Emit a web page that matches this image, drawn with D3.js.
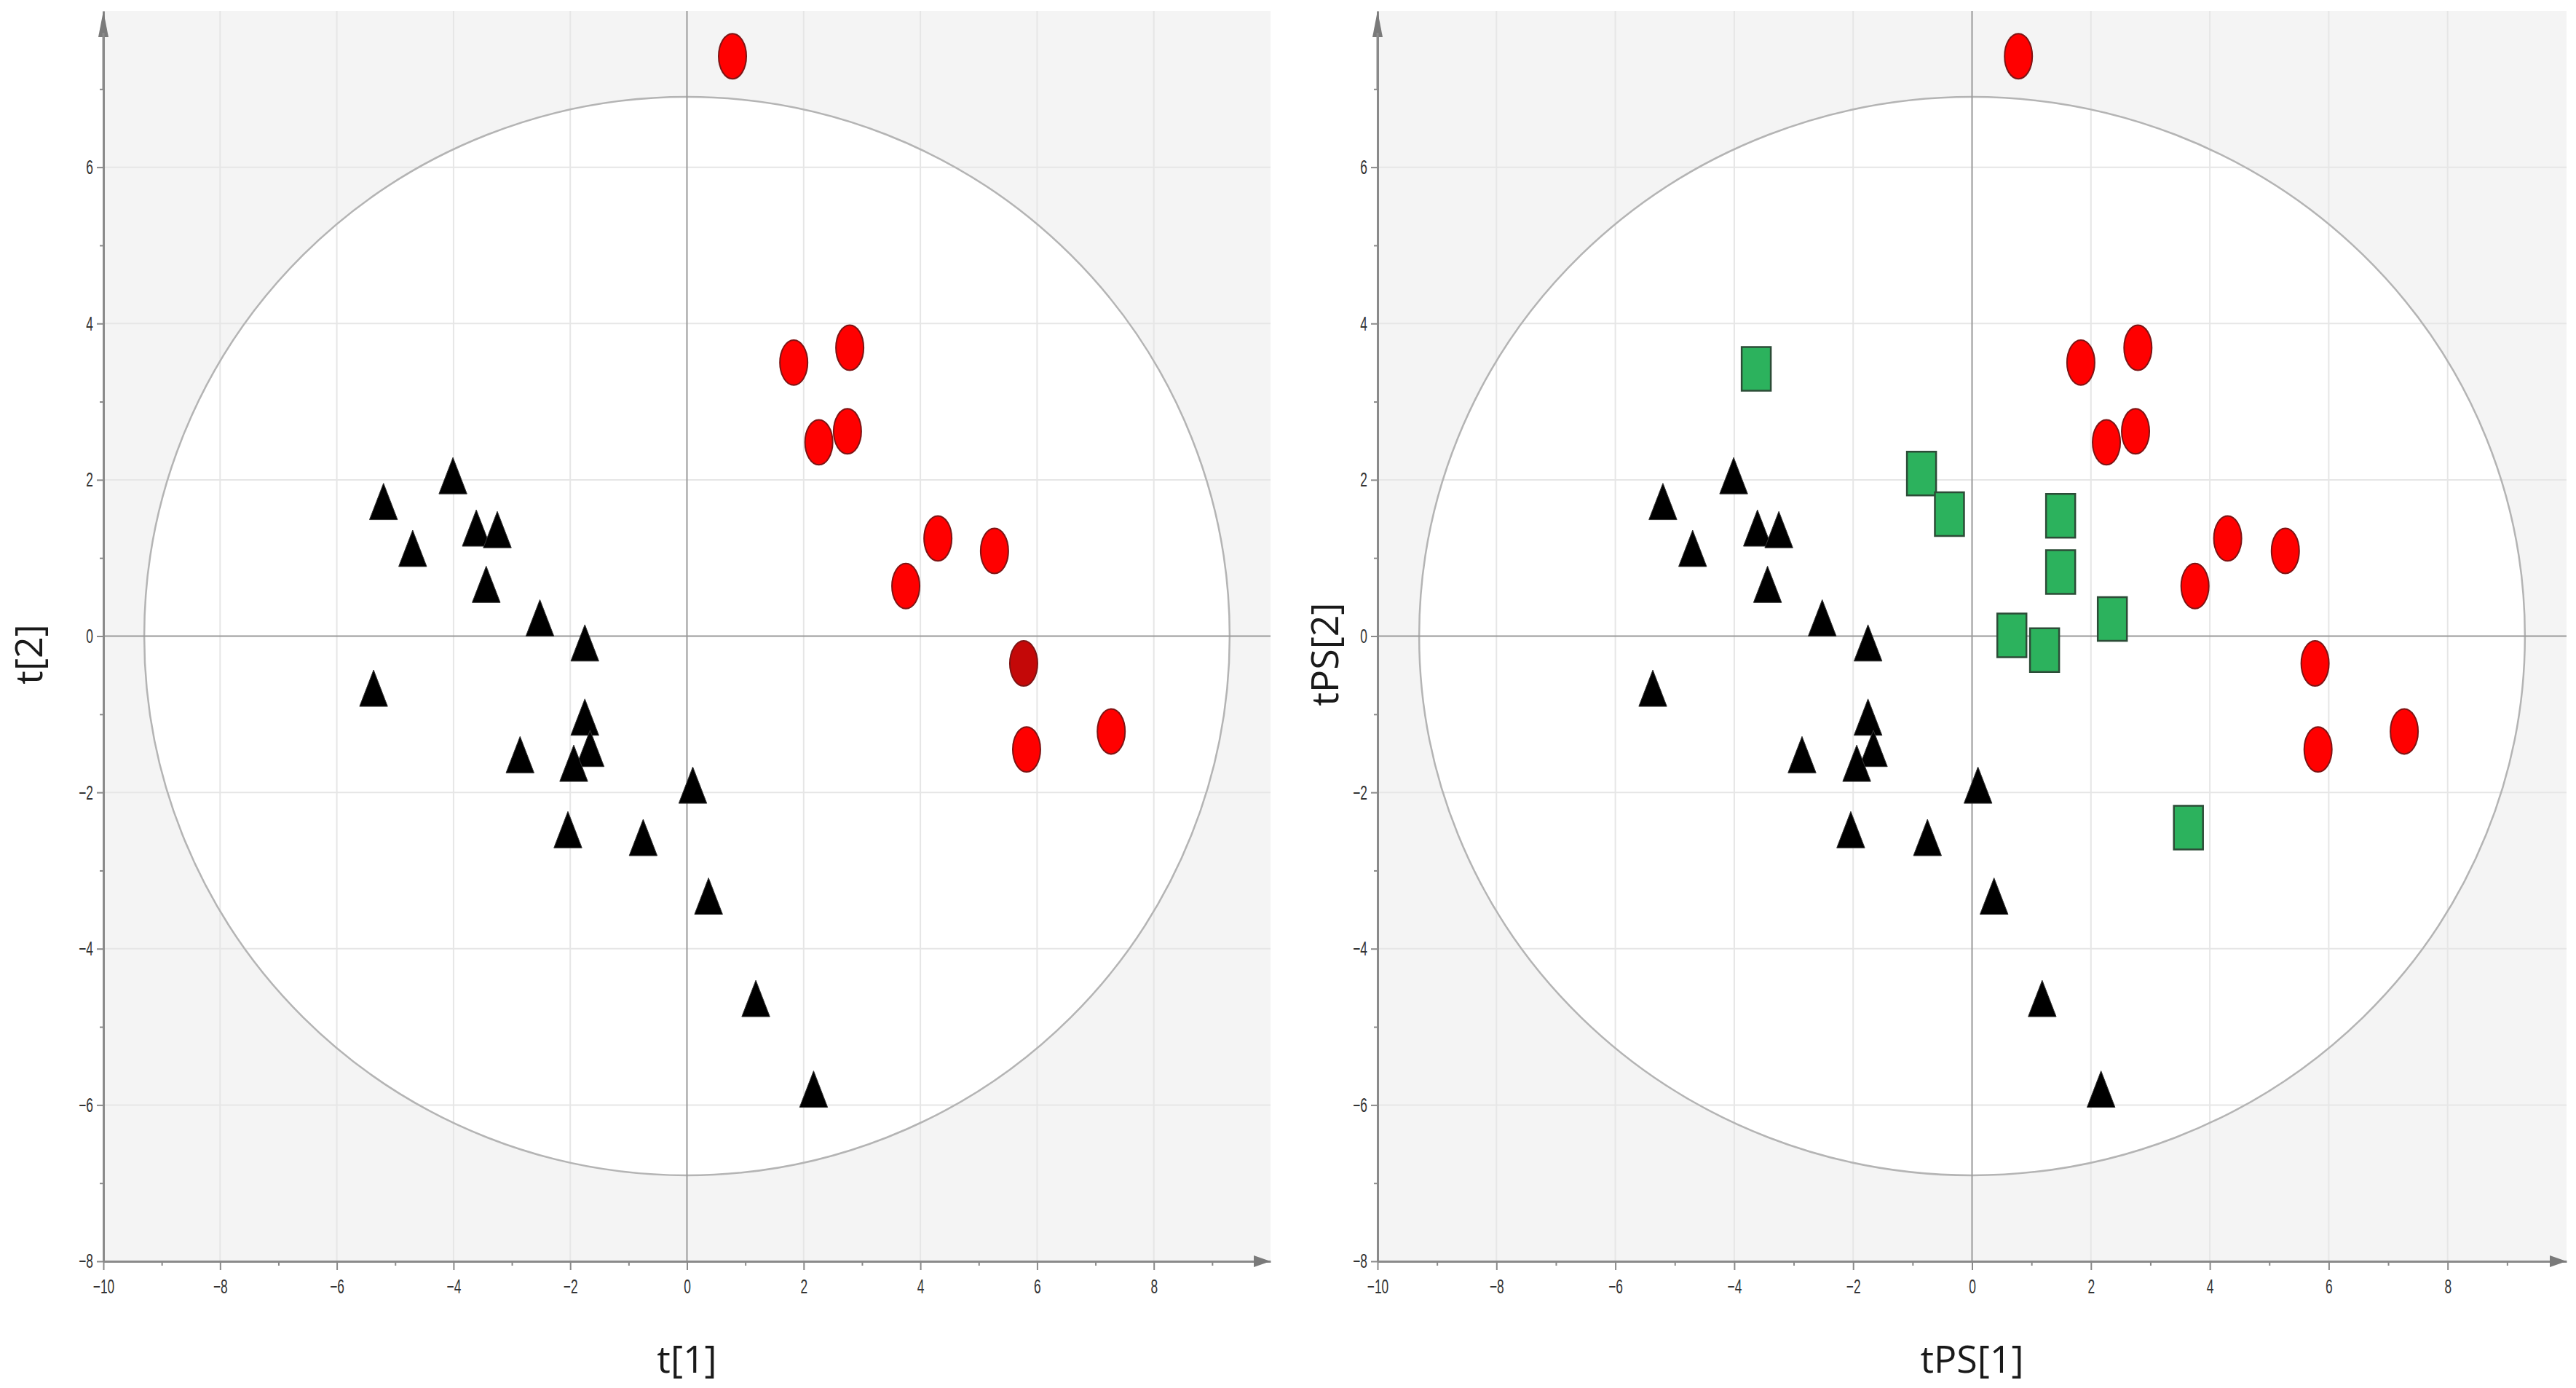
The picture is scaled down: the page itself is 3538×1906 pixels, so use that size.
<!DOCTYPE html>
<html>
<head>
<meta charset="utf-8">
<script src="https://cdn.jsdelivr.net/npm/d3@7.9.0/dist/d3.min.js"></script>
<style>
  body { margin: 0; background: #fff; }
  svg { display: block; }
</style>
</head>
<body>
<svg id="chart" width="3538" height="1906"></svg>
<script>
// tick values for both score plots
const xTicks = [-10, -8, -6, -4, -2, 0, 2, 4, 6, 8];
const yTicks = [-8, -6, -4, -2, 0, 2, 4, 6];
const xMinor = [-9, -7, -5, -3, -1, 1, 3, 5, 7, 9];
const yMinor = [-7, -5, -3, -1, 1, 3, 5, 7];

// Hotelling T2 ellipse half-axes
const ellipseAxes = [9.3, 6.9];

// red circles (t[1], t[2])
const circles = [
  [0.78, 7.42], [1.83, 3.50], [2.79, 3.69], [2.26, 2.48], [2.75, 2.62],
  [4.30, 1.25], [5.27, 1.09], [3.75, 0.64], [5.77, -0.35], [5.82, -1.45],
  [7.27, -1.22]
];
// black triangles
const triangles = [
  [-4.01, 2.05], [-5.20, 1.72], [-4.70, 1.12], [-3.61, 1.38], [-3.25, 1.36],
  [-3.44, 0.66], [-2.52, 0.23], [-1.75, -0.09], [-5.37, -0.67], [-1.75, -1.04],
  [-1.66, -1.44], [-2.86, -1.52], [-1.94, -1.63], [0.10, -1.91], [-2.04, -2.48],
  [-0.75, -2.58], [0.37, -3.33], [1.18, -4.64], [2.17, -5.80]
];
// green squares (predicted, right plot only)
const squares = [
  [-3.63, 3.42], [-0.85, 2.08], [-0.38, 1.56], [1.49, 1.54], [1.49, 0.82],
  [0.67, 0.01], [1.22, -0.18], [2.36, 0.22], [3.64, -2.45]
];

const svg = d3.select('#chart');

function drawPanel(opts) {
  const x = d3.scaleLinear().domain([-10, 10]).range([opts.left, opts.right]);
  const y = d3.scaleLinear().domain([-8, 8]).range([1732, 15]);
  const g = svg.append('g');

  g.append('rect')
    .attr('x', x(-10)).attr('y', y(8))
    .attr('width', x(10) - x(-10)).attr('height', y(-8) - y(8))
    .attr('fill', '#f4f4f4');

  g.append('ellipse')
    .attr('cx', x(0)).attr('cy', y(0))
    .attr('rx', x(ellipseAxes[0]) - x(0))
    .attr('ry', y(0) - y(ellipseAxes[1]))
    .attr('fill', '#fff');

  // grid
  g.selectAll('.gx').data(xTicks.filter(d => d !== 0 && d !== -10)).join('line')
    .attr('x1', d => x(d)).attr('x2', d => x(d))
    .attr('y1', y(8)).attr('y2', y(-8))
    .attr('stroke', '#e6e6e6').attr('stroke-width', 2);
  g.selectAll('.gy').data(yTicks.filter(d => d !== 0 && d !== -8)).join('line')
    .attr('x1', x(-10)).attr('x2', x(10))
    .attr('y1', d => y(d)).attr('y2', d => y(d))
    .attr('stroke', '#e6e6e6').attr('stroke-width', 2);

  g.append('ellipse')
    .attr('cx', x(0)).attr('cy', y(0))
    .attr('rx', x(ellipseAxes[0]) - x(0))
    .attr('ry', y(0) - y(ellipseAxes[1]))
    .attr('fill', 'none')
    .attr('stroke', '#b4b4b4').attr('stroke-width', 2.5);

  // zero lines
  g.append('line')
    .attr('x1', x(0)).attr('x2', x(0)).attr('y1', y(8)).attr('y2', y(-8))
    .attr('stroke', '#999').attr('stroke-width', 2);
  g.append('line')
    .attr('x1', x(-10)).attr('x2', x(10)).attr('y1', y(0)).attr('y2', y(0))
    .attr('stroke', '#999').attr('stroke-width', 2);

  // axes
  const xAxis = g.append('g').attr('transform', `translate(0,${y(-8)})`)
    .call(d3.axisBottom(x).tickValues(xTicks).tickSize(12).tickSizeOuter(0).tickPadding(12));
  g.append('g').attr('transform', `translate(0,${y(-8)})`)
    .call(d3.axisBottom(x).tickValues(xMinor).tickSize(6).tickSizeOuter(0).tickFormat(''))
    .select('.domain').remove();
  const yAxis = g.append('g').attr('transform', `translate(${x(-10)},0)`)
    .call(d3.axisLeft(y).tickValues(yTicks).tickSize(9).tickSizeOuter(0));
  g.append('g').attr('transform', `translate(${x(-10)},0)`)
    .call(d3.axisLeft(y).tickValues(yMinor).tickSize(5).tickSizeOuter(0).tickFormat(''))
    .select('.domain').remove();

  g.selectAll('.domain').attr('stroke', '#8a8a8a').attr('stroke-width', 3);
  g.selectAll('.tick line').attr('stroke', '#8a8a8a').attr('stroke-width', 2);
  xAxis.selectAll('text')
    .attr('font-family', 'Liberation Sans, Arial, sans-serif')
    .attr('font-size', 28).attr('fill', '#333')
    .attr('transform', 'scale(0.62,1)');
  yAxis.selectAll('text')
    .attr('font-family', 'Liberation Sans, Arial, sans-serif')
    .attr('font-size', 28).attr('fill', '#333')
    .attr('x', -14 / 0.62)
    .attr('transform', 'scale(0.62,1)');

  // arrow heads
  g.append('path')
    .attr('d', `M${x(10)},${y(-8)} L${x(10) - 23},${y(-8) - 8} L${x(10) - 23},${y(-8) + 8} Z`)
    .attr('fill', '#7a7a7a');
  g.append('path')
    .attr('d', `M${x(-10)},${y(8)} L${x(-10) - 7},${y(8) + 36} L${x(-10) + 7},${y(8) + 36} Z`)
    .attr('fill', '#7a7a7a');
  g.append('line')
    .attr('x1', x(-10)).attr('x2', x(-10)).attr('y1', y(8) + 30).attr('y2', y(7))
    .attr('stroke', '#8a8a8a').attr('stroke-width', 3);

  // axis titles
  g.append('text')
    .attr('x', x(0)).attr('y', 1885)
    .attr('text-anchor', 'middle')
    .attr('font-family', 'Open Sans, Noto Sans, sans-serif')
    .attr('font-size', 52).attr('fill', '#1a1a1a')
    .text(opts.xLabel);
  g.append('text')
    .attr('transform', `translate(${opts.yLabelX},${y(0) + 25}) rotate(-90)`)
    .attr('text-anchor', 'middle')
    .attr('font-family', 'Open Sans, Noto Sans, sans-serif')
    .attr('font-size', 52).attr('fill', '#1a1a1a')
    .text(opts.yLabel);

  // markers (triangle anchored on its box centre)
  const tri = d3.symbol().type(d3.symbolTriangle).size(640);
  g.selectAll('.tri').data(triangles).join('path')
    .attr('d', tri)
    .attr('transform', d => `translate(${x(d[0])},${y(d[1]) + 8}) scale(1,1.5)`)
    .attr('fill', '#000')
    .attr('stroke', '#333').attr('stroke-width', 1)
    .attr('vector-effect', 'non-scaling-stroke');

  if (opts.showSquares) {
    const sq = d3.symbol().type(d3.symbolSquare).size(1600);
    g.selectAll('.sq').data(squares).join('path')
      .attr('d', sq)
      .attr('transform', d => `translate(${x(d[0])},${y(d[1])}) scale(1,1.5)`)
      .attr('fill', '#2cb25d')
      .attr('stroke', '#2c4c37').attr('stroke-width', 2.5)
      .attr('vector-effect', 'non-scaling-stroke');
  }

  const circ = d3.symbol().type(d3.symbolCircle).size(1134);
  g.selectAll('.circ').data(circles).join('path')
    .attr('d', circ)
    .attr('transform', d => `translate(${x(d[0])},${y(d[1])}) scale(1,1.63)`)
    .attr('fill', (d, i) => i === opts.darkIndex ? '#c40808' : '#ff0000')
    .attr('stroke', '#7e1414').attr('stroke-width', 2)
    .attr('vector-effect', 'non-scaling-stroke');
}

drawPanel({ left: 142, right: 1745, yLabelX: 58, xLabel: 't[1]', yLabel: 't[2]', showSquares: false, darkIndex: 8 });
drawPanel({ left: 1892, right: 3525, yLabelX: 1838, xLabel: 'tPS[1]', yLabel: 'tPS[2]', showSquares: true, darkIndex: -1 });
</script>
</body>
</html>
